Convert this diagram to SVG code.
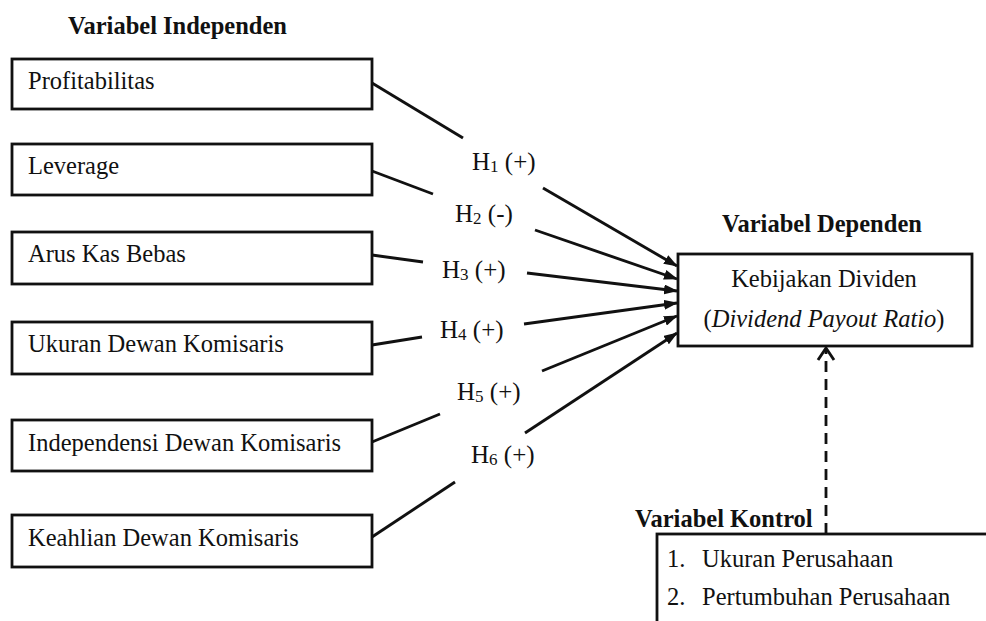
<svg xmlns="http://www.w3.org/2000/svg" width="986" height="621" viewBox="0 0 986 621">
<style>
.bx{fill:#fff;stroke:#111;stroke-width:2.8}
.t{font-family:"Liberation Serif","Times New Roman",serif;font-size:24.5px;fill:#111}
.b{font-weight:bold}
.i{font-style:italic}
.lb{font-family:"Liberation Serif","Times New Roman",serif;font-size:25px;fill:#111}
.sub{font-size:17px}
.ln{stroke:#111;stroke-width:2.9;fill:none}
.ar{stroke:#111;stroke-width:2.9;fill:none;marker-end:url(#ah)}
.ds{stroke:#111;stroke-width:2.8;fill:none;stroke-dasharray:11,7}
</style>
<defs>
<marker id="ah" markerWidth="14" markerHeight="10" refX="13" refY="5" orient="auto" markerUnits="userSpaceOnUse">
<path d="M0,0 L14,5 L0,10 z" fill="#111"/>
</marker>
</defs>
<rect width="986" height="621" fill="#fff"/>
<text class="t b" x="68" y="34">Variabel Independen</text>
<text class="t b" x="722" y="232">Variabel Dependen</text>
<text class="t b" x="635" y="527">Variabel Kontrol</text>
<g id="n1"><rect class="bx" x="12" y="59" width="360" height="50"/><text class="t" x="28" y="89">Profitabilitas</text></g>
<g id="n2"><rect class="bx" x="12" y="144" width="360" height="51"/><text class="t" x="28" y="174">Leverage</text></g>
<g id="n3"><rect class="bx" x="12" y="232" width="360" height="52"/><text class="t" x="28" y="262">Arus Kas Bebas</text></g>
<g id="n4"><rect class="bx" x="12" y="322" width="360" height="52"/><text class="t" x="28" y="352">Ukuran Dewan Komisaris</text></g>
<g id="n5"><rect class="bx" x="12" y="420" width="360" height="51"/><text class="t" x="28" y="451">Independensi Dewan Komisaris</text></g>
<g id="n6"><rect class="bx" x="12" y="515" width="360" height="52"/><text class="t" x="28" y="546">Keahlian Dewan Komisaris</text></g>
<g id="dep"><rect class="bx" x="678" y="254" width="294" height="92"/>
<text class="t" x="824" y="287" text-anchor="middle">Kebijakan Dividen</text>
<text class="t" x="824" y="327" text-anchor="middle">(<tspan class="i">Dividend Payout Ratio</tspan>)</text></g>
<g id="ctrl"><rect class="bx" x="657" y="534" width="345" height="100"/>
<text class="t" x="667" y="567">1.</text><text class="t" x="702" y="567">Ukuran Perusahaan</text>
<text class="t" x="667" y="605">2.</text><text class="t" x="702" y="605">Pertumbuhan Perusahaan</text></g>
<g id="labels">
<text class="lb" x="472" y="170">H<tspan class="sub" dy="2">1</tspan><tspan dy="-2"> (+)</tspan></text>
<text class="lb" x="455" y="222">H<tspan class="sub" dy="2">2</tspan><tspan dy="-2"> (-)</tspan></text>
<text class="lb" x="442" y="278">H<tspan class="sub" dy="2">3</tspan><tspan dy="-2"> (+)</tspan></text>
<text class="lb" x="440" y="338">H<tspan class="sub" dy="2">4</tspan><tspan dy="-2"> (+)</tspan></text>
<text class="lb" x="457" y="400">H<tspan class="sub" dy="2">5</tspan><tspan dy="-2"> (+)</tspan></text>
<text class="lb" x="471" y="463">H<tspan class="sub" dy="2">6</tspan><tspan dy="-2"> (+)</tspan></text>
</g>
<g id="connectors">
<line class="ln" x1="372" y1="83" x2="463" y2="138"/>
<line class="ln" x1="372" y1="171" x2="433" y2="194"/>
<line class="ln" x1="372" y1="255" x2="423" y2="262"/>
<line class="ln" x1="372" y1="345" x2="422" y2="337"/>
<line class="ln" x1="372" y1="442" x2="440" y2="414"/>
<line class="ln" x1="372" y1="537" x2="455" y2="482"/>
<line class="ar" x1="543" y1="188" x2="677" y2="266"/>
<line class="ar" x1="535" y1="230" x2="677" y2="279"/>
<line class="ar" x1="527" y1="273" x2="677" y2="291"/>
<line class="ar" x1="524" y1="324" x2="677" y2="303"/>
<line class="ar" x1="542" y1="371" x2="677" y2="316"/>
<line class="ar" x1="525" y1="433" x2="677" y2="333"/>
<line class="ds" x1="826" y1="534" x2="826" y2="350"/>
<polyline class="ln" points="818,360 826,348 834,360"/>
</g>
</svg>
